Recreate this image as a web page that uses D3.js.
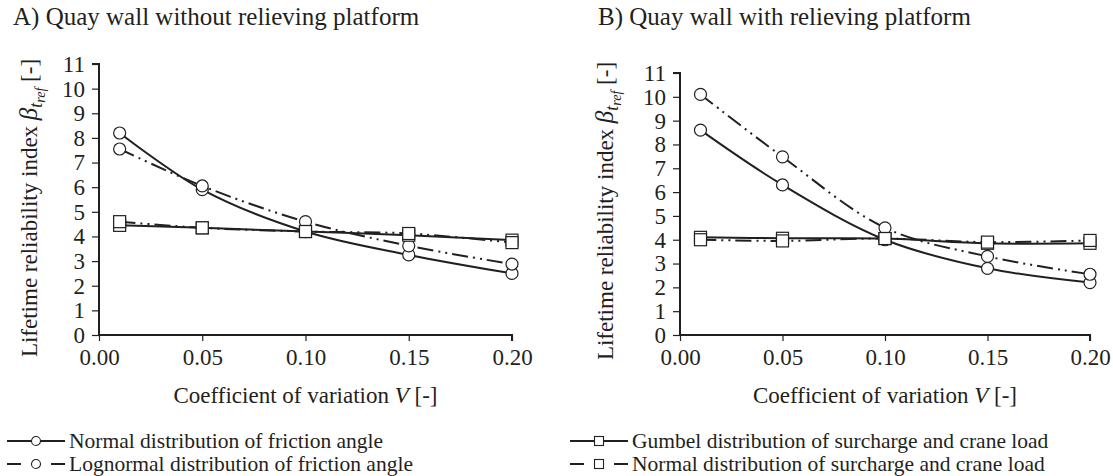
<!DOCTYPE html>
<html>
<head>
<meta charset="utf-8">
<script src="https://cdn.jsdelivr.net/npm/d3@7"></script>
<style>
  body { margin: 0; background: #fff; }
</style>
</head>
<body>
<svg id="chart" width="1113" height="476"></svg>
<script>
'use strict';

// coefficient of variation V
var covValues = [0.01, 0.05, 0.10, 0.15, 0.20];
var xTickValues = [0.00, 0.05, 0.10, 0.15, 0.20];
var yTickValues = [0, 1, 2, 3, 4, 5, 6, 7, 8, 9, 10, 11];

// A) without relieving platform
var aNormalFriction = [8.2, 5.9, 4.2, 3.25, 2.5];
var aLognormalFriction = [7.55, 6.05, 4.6, 3.62, 2.88];
var aGumbelLoad = [4.45, 4.35, 4.2, 4.05, 3.85];
var aNormalLoad = [4.6, 4.35, 4.2, 4.12, 3.75];

// B) with relieving platform
var bNormalFriction = [8.6, 6.3, 4.0, 2.8, 2.2];
var bLognormalFriction = [10.1, 7.48, 4.5, 3.3, 2.55];
var bGumbelLoad = [4.1, 4.06, 4.05, 3.85, 3.85];
var bNormalLoad = [4.0, 3.95, 4.05, 3.9, 3.97];

var panelTitles = ['A) Quay wall without relieving platform', 'B) Quay wall with relieving platform'];
var legendLabels = [
    'Normal distribution of friction angle',
    'Lognormal distribution of friction angle',
    'Gumbel distribution of surcharge and crane load',
    'Normal distribution of surcharge and crane load'
];

var ink = '#231f20';
var serif = '"Liberation Serif", "DejaVu Serif", serif';
var dashDotDot = '16 5 2 5 2 5';

var svg = d3.select('#chart').attr('font-family', serif).attr('fill', ink);

var drawPanel = function (cfg) {
    var x = d3.scaleLinear().domain([0, 0.2]).range([cfg.left, cfg.right]);
    var y = d3.scaleLinear().domain([0, 11]).range([cfg.bottom, cfg.top]);
    var g = svg.append('g');

    g.append('text').attr('x', cfg.titleX).attr('y', 25)
        .attr('font-family', serif).attr('font-size', 25).text(cfg.title);

    var xAxis = g.append('g').attr('transform', 'translate(0,' + cfg.bottom + ')')
        .call(d3.axisBottom(x).tickValues(xTickValues).tickFormat(d3.format('.2f')).tickSize(6).tickPadding(8));
    var yAxis = g.append('g').attr('transform', 'translate(' + cfg.left + ',0)')
        .call(d3.axisLeft(y).tickValues(yTickValues).tickSize(7).tickPadding(7));

    [xAxis, yAxis].forEach(function (ax) {
        ax.attr('font-family', serif).attr('font-size', 23);
        ax.select('.domain').attr('stroke', ink).attr('stroke-width', 2);
        ax.selectAll('.tick line').attr('stroke', ink).attr('stroke-width', 1.2);
        ax.selectAll('.tick text').attr('fill', ink);
    });
    xAxis.select('.domain').attr('d', 'M' + cfg.left + ',0H' + cfg.right + 'V6');
    yAxis.select('.domain').attr('d', 'M-7,' + cfg.top + 'H0V' + cfg.bottom);

    // axis titles
    var xt = g.append('text').attr('x', (cfg.left + cfg.right) / 2).attr('y', 403)
        .attr('text-anchor', 'middle').attr('font-family', serif).attr('font-size', 23);
    xt.append('tspan').text('Coefficient of variation ');
    xt.append('tspan').attr('font-style', 'italic').text('V');
    xt.append('tspan').text(' [-]');

    var yt = g.append('text')
        .attr('transform', 'translate(' + cfg.yTitleX + ',' + cfg.yTitleY + ') rotate(-90)')
        .attr('text-anchor', 'middle').attr('font-family', serif).attr('font-size', 23);
    yt.append('tspan').text('Lifetime reliability index ');
    yt.append('tspan').attr('font-style', 'italic').attr('font-size', 25).text('\u03b2');
    yt.append('tspan').attr('font-style', 'italic').attr('font-size', 18).attr('dy', 5).text('t');
    yt.append('tspan').attr('font-style', 'italic').attr('font-size', 14).attr('dy', 3).text('ref');
    yt.append('tspan').attr('dy', -8).text(' [-]');

    var line = d3.line()
        .x(function (d, i) { return x(covValues[i]); })
        .y(function (d) { return y(d); })
        .curve(d3.curveCatmullRom.alpha(0.5));

    cfg.series.forEach(function (s) {
        g.append('path').datum(s.values).attr('d', line)
            .attr('fill', 'none').attr('stroke', ink).attr('stroke-width', 2)
            .attr('stroke-dasharray', s.dashed ? dashDotDot : null);
    });

    cfg.series.forEach(function (s) {
        var pts = g.selectAll('.m' + s.id).data(s.values).enter();
        if (s.marker === 'circle') {
            pts.append('circle').attr('r', 6)
                .attr('cx', function (d, i) { return x(covValues[i]); })
                .attr('cy', function (d) { return y(d); })
                .attr('fill', '#fff').attr('stroke', ink).attr('stroke-width', 1.2);
        } else {
            pts.append('rect').attr('width', 12).attr('height', 12)
                .attr('x', function (d, i) { return x(covValues[i]) - 6; })
                .attr('y', function (d) { return y(d) - 6; })
                .attr('fill', '#fff').attr('stroke', ink).attr('stroke-width', 1.2);
        }
    });
};

drawPanel({
    title: panelTitles[0], titleX: 13,
    left: 99, right: 512, top: 64, bottom: 335,
    yTitleX: 37, yTitleY: 208,
    series: [
        {id: 'an', values: aNormalFriction, marker: 'circle', dashed: false},
        {id: 'al', values: aLognormalFriction, marker: 'circle', dashed: true},
        {id: 'ag', values: aGumbelLoad, marker: 'square', dashed: false},
        {id: 'ao', values: aNormalLoad, marker: 'square', dashed: true}
    ]
});

drawPanel({
    title: panelTitles[1], titleX: 598,
    left: 680, right: 1090, top: 73, bottom: 335,
    yTitleX: 613, yTitleY: 211,
    series: [
        {id: 'bn', values: bNormalFriction, marker: 'circle', dashed: false},
        {id: 'bl', values: bLognormalFriction, marker: 'circle', dashed: true},
        {id: 'bg', values: bGumbelLoad, marker: 'square', dashed: false},
        {id: 'bo', values: bNormalLoad, marker: 'square', dashed: true}
    ]
});

// legend
var legendItems = [
    {label: legendLabels[0], marker: 'circle', dashed: false, x: 7, y: 441},
    {label: legendLabels[1], marker: 'circle', dashed: true, x: 7, y: 464},
    {label: legendLabels[2], marker: 'square', dashed: false, x: 570, y: 441},
    {label: legendLabels[3], marker: 'square', dashed: true, x: 570, y: 464}
];

var legend = svg.append('g');
legendItems.forEach(function (item) {
    var g = legend.append('g').attr('transform', 'translate(' + item.x + ',' + item.y + ')');
    if (item.dashed) {
        g.append('line').attr('x1', 0).attr('x2', 14).attr('stroke', ink).attr('stroke-width', 2);
        g.append('line').attr('x1', 44).attr('x2', 58).attr('stroke', ink).attr('stroke-width', 2);
    } else {
        g.append('line').attr('x1', 0).attr('x2', 58).attr('stroke', ink).attr('stroke-width', 2);
    }
    if (item.marker === 'circle') {
        g.append('circle').attr('cx', 29).attr('r', 4.5).attr('fill', '#fff').attr('stroke', ink).attr('stroke-width', 1.1);
    } else {
        g.append('rect').attr('x', 24.5).attr('y', -4.5).attr('width', 9).attr('height', 9)
            .attr('fill', '#fff').attr('stroke', ink).attr('stroke-width', 1.1);
    }
    g.append('text').attr('x', 62).attr('y', 7).attr('font-family', serif)
        .attr('font-size', 21.5).text(item.label);
});
</script>
</body>
</html>
